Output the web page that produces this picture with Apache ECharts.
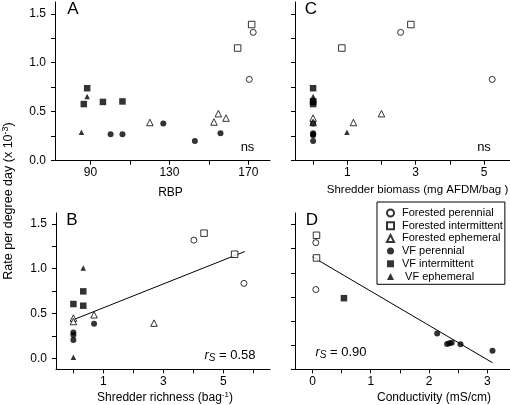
<!DOCTYPE html>
<html>
<head>
<meta charset="utf-8">
<script src="https://cdn.jsdelivr.net/npm/echarts@6/dist/echarts.min.js"></script>
<style>html,body{margin:0;padding:0;background:#fff}#c{width:510px;height:405px}</style>
</head>
<body>
<div id="c"></div>
<script>
// ---- group names (legend) ----
const groupNames = ['Forested perennial', 'Forested intermittent', 'Forested ephemeral', 'VF perennial', 'VF intermittent', ' VF ephemeral'];

// ---- Panel A: RBP vs rate ----
const aFPx = [172.5, 170.5],               aFPy = [1.31, 0.83];
const aFIx = [164.6, 171.7],               aFIy = [1.15, 1.39];
const aFEx = [120.1, 152.6, 154.8, 158.7], aFEy = [0.39, 0.395, 0.48, 0.435];
const aVPx = [100.2, 106.2, 126.9, 142.9, 155.9], aVPy = [0.27, 0.27, 0.38, 0.20, 0.28];
const aVIx = [86.6, 88.3, 96.3, 106.2],    aVIy = [0.578, 0.74, 0.60, 0.605];
const aVEx = [88.3, 85.4],                 aVEy = [0.656, 0.29];

// ---- Panel B: shredder richness vs rate ----
const bFPx = [4.02, 5.69],             bFPy = [1.317, 0.835];
const bFIx = [4.36, 5.38],             bFIy = [1.395, 1.16];
const bFEx = [0, 0, 0.69, 2.69],       bFEy = [0.448, 0.41, 0.485, 0.392];
const bVPx = [0.69, 0, 0, 0],          bVPy = [0.384, 0.287, 0.26, 0.205];
const bVIx = [0, 0.33, 0.33],          bVIy = [0.605, 0.746, 0.586];
const bVEx = [0.33, 0],                bVEy = [1.008, 0.01];
const bFitX = [0, 5.72],               bFitY = [0.43, 1.19];

// ---- Panel C: shredder biomass vs rate ----
const cFPx = [2.56, 5.24],             cFPy = [1.31, 0.83];
const cFIx = [0.84, 2.86],             cFIy = [1.15, 1.39];
const cFEx = [0, 0, 1.18, 2.0],        cFEy = [0.435, 0.39, 0.39, 0.48];
const cVPx = [0, 0, 0, 0, 0],          cVPy = [0.38, 0.28, 0.27, 0.26, 0.20];
const cVIx = [0, 0, 0, 0],             cVIy = [0.74, 0.605, 0.60, 0.578];
const cVEx = [0, 0.99],                cVEy = [0.656, 0.29];

// ---- Panel D: conductivity vs rate ----
const dFPx = [0.057, 0.057],           dFPy = [1.313, 0.827];
const dFIx = [0.069, 0.069],           dFIy = [1.389, 1.154];
const dVPx = [2.14, 2.31, 2.35, 2.39, 2.54, 3.09], dVPy = [0.372, 0.262, 0.269, 0.275, 0.259, 0.193];
const dVIx = [0.54],                   dVIy = [0.737];
const dFitX = [0, 3.09],               dFitY = [1.165, 0.068];

// ---- ticks ----
const yTicks = [0, 0.25, 0.5, 0.75, 1.0, 1.25, 1.5];
const yLabels = [0, 0.5, 1.0, 1.5];
const aXTicks = [90, 110, 130, 150, 170], aXLabels = [90, 130, 170];
const bXTicks = [0, 1, 2, 3, 4, 5, 6],    bXLabels = [1, 3, 5];
const cXTicks = [0, 1, 2, 3, 4, 5],       cXLabels = [1, 3, 5];
const dXTicks = [0, 0.5, 1, 1.5, 2, 2.5, 3], dXLabels = [0, 1, 2, 3];

const FONT = '"Liberation Sans", Arial, Helvetica, sans-serif';
const zip = (xs, ys) => xs.map((x, i) => [x, ys[i]]);

const styles = [
  {symbol: 'circle', size: 6, open: true},
  {symbol: 'rect', size: 6.5, open: true},
  {symbol: 'triangle', size: 6.5, open: true},
  {symbol: 'circle', size: 6, open: false},
  {symbol: 'rect', size: 6.5, open: false},
  {symbol: 'triangle', size: 5.5, open: false}
];

const panels = [
  {grid: 0, sets: [[aFPx, aFPy], [aFIx, aFIy], [aFEx, aFEy], [aVPx, aVPy], [aVIx, aVIy], [aVEx, aVEy]]},
  {grid: 1, sets: [[cFPx, cFPy], [cFIx, cFIy], [cFEx, cFEy], [cVPx, cVPy], [cVIx, cVIy], [cVEx, cVEy]]},
  {grid: 2, sets: [[bFPx, bFPy], [bFIx, bFIy], [bFEx, bFEy], [bVPx, bVPy], [bVIx, bVIy], [bVEx, bVEy]], fit: [bFitX, bFitY]},
  {grid: 3, sets: [[dFPx, dFPy], [dFIx, dFIy], null, [dVPx, dVPy], [dVIx, dVIy], null], fit: [dFitX, dFitY]}
];

const series = [];
panels.forEach(p => {
  if (p.fit) {
    series.push({type: 'line', xAxisIndex: p.grid, yAxisIndex: p.grid, data: zip(p.fit[0], p.fit[1]),
      symbol: 'none', silent: true, lineStyle: {color: '#000', width: 1}, z: 1});
  }
  p.sets.forEach((s, gi) => {
    if (!s) return;
    const st = styles[gi];
    series.push({
      type: 'scatter', name: groupNames[gi], xAxisIndex: p.grid, yAxisIndex: p.grid,
      data: zip(s[0], s[1]), symbol: st.symbol, symbolSize: st.size,
      itemStyle: st.open ? {color: '#fff', borderColor: '#000', borderWidth: 1} : {color: '#000', borderWidth: 0},
      z: 2 + gi
    });
  });
});

const axisBase = (ticks, labels, showLabels, fmt) => ({
  axisLine: {show: true, onZero: false, lineStyle: {color: '#000', width: 1}},
  axisTick: {show: true, inside: false, length: 4, customValues: ticks, lineStyle: {color: '#000'}},
  axisLabel: {show: showLabels, customValues: labels, color: '#000', fontSize: 12, fontFamily: FONT, formatter: fmt},
  splitLine: {show: false}
});

const grids = [
  {left: 55, top: 2, width: 215, height: 158.7},
  {left: 295, top: 2, width: 215, height: 158.7},
  {left: 56, top: 213, width: 214, height: 156.3},
  {left: 295, top: 213, width: 215, height: 156.3}
];

const xAxes = [
  Object.assign({type: 'value', gridIndex: 0, min: 72, max: 181}, axisBase(aXTicks, aXLabels, true, v => String(v))),
  Object.assign({type: 'value', gridIndex: 1, min: -0.53, max: 5.76}, axisBase(cXTicks, cXLabels, true, v => String(v))),
  Object.assign({type: 'value', gridIndex: 2, min: -0.58, max: 6.56}, axisBase(bXTicks, bXLabels, true, v => String(v))),
  Object.assign({type: 'value', gridIndex: 3, min: -0.3, max: 3.39}, axisBase(dXTicks, dXLabels, true, v => String(v)))
];
xAxes.forEach(a => { a.axisLabel.margin = 6; });
const yFmt = v => v.toFixed(1);
const yAxes = [
  Object.assign({type: 'value', gridIndex: 0, min: 0, max: 1.62}, axisBase(yTicks, yLabels, true, yFmt)),
  Object.assign({type: 'value', gridIndex: 1, min: 0, max: 1.62}, axisBase(yTicks, yLabels, false, yFmt)),
  Object.assign({type: 'value', gridIndex: 2, min: -0.123, max: 1.62}, axisBase(yTicks, yLabels, true, yFmt)),
  Object.assign({type: 'value', gridIndex: 3, min: 0, max: 1.62}, axisBase(yTicks, yLabels, false, yFmt))
];
yAxes.forEach(a => { a.axisLabel.margin = 9; });

const txt = (x, y, text, size, extra) => ({
  type: 'text', x: x, y: y, silent: true,
  style: Object.assign({text: text, fontSize: size, fontFamily: FONT, fill: '#000', align: 'center', verticalAlign: 'middle'}, extra || {})
});
const rsRich = {i: {fontSize: 13, fontStyle: 'italic', fontFamily: FONT}, s: {fontSize: 10, fontStyle: 'italic', fontFamily: FONT, padding: [6, 0, 0, 0]}, n: {fontSize: 13, fontFamily: FONT}};

const graphics = [
  txt(73, 9.5, 'A', 17),
  txt(311, 9.5, 'C', 17),
  txt(72, 220, 'B', 17),
  txt(312, 220, 'D', 17),
  txt(170.5, 193, 'RBP', 12),
  txt(417.5, 190, 'Shredder biomass (mg AFDM/bag )', 11.5),
  txt(165, 398, '{n|Shredder richness (bag}{s|-1}{n|)}', 12, {rich: {n: {fontSize: 12, fontFamily: FONT}, s: {fontSize: 8, fontFamily: FONT, padding: [0, 0, 7, 0]}}}),
  txt(434, 397.5, 'Conductivity (mS/cm)', 12),
  txt(247.5, 147, 'ns', 13),
  txt(484, 147, 'ns', 13),
  txt(230, 355, '{i|r}{s|S}{n| = 0.58}', 13, {rich: rsRich}),
  txt(341, 352, '{i|r}{s|S}{n| = 0.90}', 13, {rich: rsRich}),
  {type: 'text', x: 9, y: 201, rotation: Math.PI / 2, silent: true,
   style: {text: '{n|Rate per degree day (x 10}{s|-3}{n|)}', fontSize: 12.5, fontFamily: FONT, fill: '#000', align: 'center', verticalAlign: 'middle',
     rich: {n: {fontSize: 12.5, fontFamily: FONT}, s: {fontSize: 9, fontFamily: FONT, padding: [0, 0, 7, 0]}}}}
];

const chart = echarts.init(document.getElementById('c'), null, {renderer: 'canvas'});
chart.setOption({
  animation: false,
  backgroundColor: '#fff',
  grid: grids,
  xAxis: xAxes,
  yAxis: yAxes,
  legend: {
    data: groupNames, orient: 'vertical', left: 377, top: 202,
    itemWidth: 7, itemHeight: 7, itemGap: 1.7,
    padding: [5.5, 2, 2.3, 9], borderColor: '#000', borderWidth: 1, backgroundColor: '#fff',
    textStyle: {fontSize: 11, fontFamily: FONT, color: '#000', padding: [0, 0, 0, 3]},
    selectedMode: false
  },
  series: series,
  graphic: graphics
});
</script>
</body>
</html>
